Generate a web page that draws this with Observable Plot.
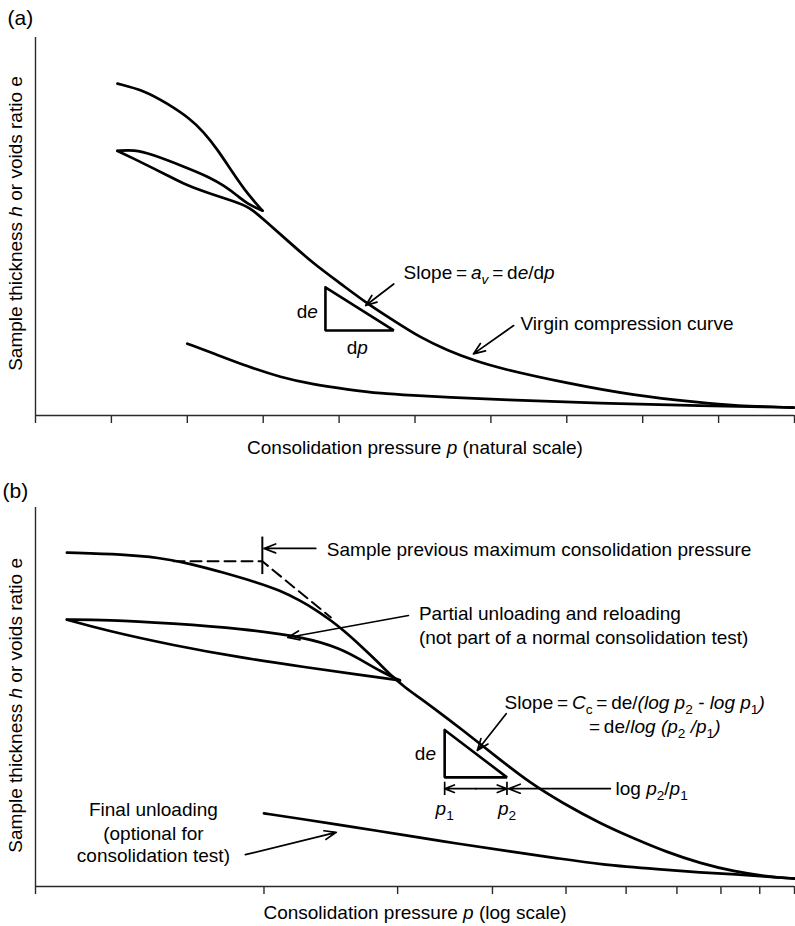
<!DOCTYPE html>
<html>
<head>
<meta charset="utf-8">
<script src="https://cdn.jsdelivr.net/npm/d3@7"></script>
<script src="https://cdn.jsdelivr.net/npm/@observablehq/plot@0.6"></script>
<style>
  html, body { margin: 0; padding: 0; background: #fff; }
  #fig { position: relative; width: 795px; height: 926px; overflow: hidden; }
  #fig svg { position: absolute; left: 0; }
</style>
</head>
<body>
<div id="fig"></div>
<script>
// ---------- Panel (a): natural pressure scale ----------
const aTicks = [0, 1, 2, 3, 4, 5, 6, 7, 8, 9, 10];

// first loading up to the unloading point
const aLoading = [[1.08, 87.8], [1.43, 86.0], [1.74, 82.5], [2.04, 78.5], [2.22, 74.9],
  [2.39, 70.6], [2.61, 63.9], [2.79, 58.7], [2.99, 54.2]];
// partial unloading back to the low pressure
const aUnloading = [[2.99, 54.2], [2.79, 56.0], [2.66, 58.2], [2.48, 60.8], [2.31, 62.9],
  [1.95, 65.9], [1.52, 69.2], [1.30, 70.3], [1.08, 70.0]];
// reloading, then on along the virgin compression curve
const aReloading = [[1.08, 70.0], [1.30, 67.9], [1.52, 65.7], [1.74, 63.5], [2.00, 60.8],
  [2.31, 58.6], [2.61, 56.7], [2.83, 55.1], [3.05, 51.0], [3.32, 46.3], [3.66, 40.2],
  [4.02, 34.9], [4.37, 29.6], [4.72, 25.1], [5.07, 20.6], [5.43, 17.2], [5.77, 14.6],
  [6.13, 12.4], [7.01, 8.5], [7.88, 5.3], [8.76, 3.4], [9.20, 2.6], [9.99, 2.1]];
// final unloading
const aFinal = [[2.00, 19.0], [2.35, 16.4], [2.79, 13.0], [3.23, 10.1], [3.66, 8.2],
  [4.11, 6.9], [4.55, 5.8], [4.98, 5.3], [5.43, 4.8], [6.13, 4.2], [7.44, 3.2],
  [8.76, 2.6], [9.99, 2.1]];
// slope triangle de / dp
const aTriangle = [[3.82, 33.9], [3.82, 22.5], [4.72, 22.5], [3.82, 33.9]];
const aArrows = [
  {x1: 4.72, y1: 34.8, x2: 4.35, y2: 29.1},
  {x1: 6.30, y1: 23.8, x2: 5.77, y2: 16.3}
];
const aNotesStart = [
  {x: 4.85, y: 37.6, text: "Slope\u2009=\u2009*a*_{*v*}\u2009=\u2009d*e*/d*p*"},
  {x: 6.39, y: 24.3, text: "Virgin compression curve"}
];
const aNotesEnd = [{x: 3.72, y: 27.5, text: "d*e*"}];
const aNotesMiddle = [{x: 4.24, y: 18.0, text: "d*p*"}];
const aAxisTitle = "Consolidation pressure *p* (natural scale)";
const yAxisTitle = "Sample thickness *h* or voids ratio e";
const aYTitleAt = 50.8;

// ---------- Panel (b): logarithmic pressure scale ----------
const bTicks = [1, 2, 3, 4, 5, 6, 7, 8, 9, 10];

// loading and virgin compression curve
const bLoading = [[1.10, 88.1], [1.31, 87.6], [1.45, 86.8], [1.60, 85.2], [1.77, 82.8],
  [1.96, 80.2], [2.10, 78.1], [2.23, 75.5], [2.35, 72.8], [2.45, 70.2], [2.55, 67.5],
  [2.68, 63.6], [2.82, 59.4], [2.95, 55.4], [3.07, 52.5], [3.19, 50.1], [3.31, 47.8],
  [3.66, 41.2], [4.06, 34.0], [4.49, 27.2], [4.96, 21.9], [5.55, 16.6], [6.14, 12.7],
  [6.80, 9.0], [7.52, 6.1], [8.31, 4.0], [9.21, 2.6], [10, 2.1]];
// partial unloading and reloading loop
const bUnloading = [[3.02, 54.4], [2.85, 56.7], [2.68, 59.9], [2.52, 62.8], [2.28, 65.7],
  [1.86, 68.1], [1.52, 69.4], [1.24, 70.4], [1.10, 70.4]];
const bReloading = [[1.10, 70.4], [1.24, 67.5], [1.52, 63.6], [1.86, 60.4], [2.28, 57.8],
  [2.66, 55.9], [3.02, 54.4]];
// final unloading
const bFinal = [[2.00, 19.3], [2.23, 17.9], [2.64, 15.6], [3.03, 13.7], [3.60, 11.3],
  [4.23, 9.2], [4.89, 7.4], [5.55, 5.8], [6.66, 4.5], [7.52, 3.7], [8.39, 3.2],
  [9.21, 2.6], [10, 2.1]];
// construction for the previous maximum consolidation pressure
const bPreconLines = [[1.52, 85.8], [1.99, 85.8], [2.45, 71.0]];
const bPmax = [{x: 1.99, y1: 82.3, y2: 92.2}];
// slope triangle and the p1 - p2 span
const bTriangle = [[3.46, 41.3], [3.46, 28.8], [4.18, 28.8], [3.46, 41.3]];
const bSpan = {p1: 3.46, p2: 4.18, y: 25.8, lo: 24.0, hi: 27.5};
const bArrows = [
  {x1: 2.34, y1: 89.2, x2: 2.00, y2: 89.2},
  {x1: 3.10, y1: 71.5, x2: 2.15, y2: 65.7},
  {x1: 4.17, y1: 45.6, x2: 3.82, y2: 35.9},
  {x1: 1.89, y1: 8.4, x2: 2.49, y2: 14.3},
  {x1: 5.72, y1: 25.8, x2: 4.20, y2: 25.8}
];
const bNotesStart = [
  {x: 2.42, y: 88.8, text: "Sample previous maximum consolidation pressure"},
  {x: 3.20, y: 71.8, text: "Partial unloading and reloading"},
  {x: 3.20, y: 65.7, text: "(not part of a normal consolidation test)"},
  {x: 4.15, y: 48.5, text: "Slope\u2009=\u2009*C*_{c}\u2009=\u2009de/*(log p*_{2} *- log p*_{1}*)*"},
  {x: 5.36, y: 42.2, text: "=\u2009de/*log (p*_{2} */p*_{1}*)*"},
  {x: 5.81, y: 25.8, text: "log *p*_{2}/*p*_{1}"}
];
const bNotesEnd = [{x: 3.37, y: 35.1, text: "d*e*"}];
const bNotesMiddle = [
  {x: 3.46, y: 20.6, text: "*p*_{1}"},
  {x: 4.18, y: 20.6, text: "*p*_{2}"},
  {x: 1.43, y: 20.1, text: "Final unloading"},
  {x: 1.43, y: 14.0, text: "(optional for"},
  {x: 1.43, y: 8.2, text: "consolidation test)"}
];
const bAxisTitle = "Consolidation pressure *p* (log scale)";
const bYTitleAt = 47.8;

// ---------- shared styling ----------
const FONT = "'Liberation Sans', Arial, Helvetica, sans-serif";
const FS = 19;
const INK = "#000";
const AXIS = "#2a2a2a";
const X = d => d[0], Y = d => d[1];
const lineStyle = {x: X, y: Y, stroke: INK, strokeWidth: 2.7, curve: "basis",
  strokeLinejoin: "round", strokeLinecap: "round"};
const arrowStyle = {x1: "x1", y1: "y1", x2: "x2", y2: "y2", stroke: INK,
  strokeWidth: 1.7, headLength: 11, headAngle: 42};
const textStyle = {x: "x", y: "y", text: "text", fontSize: FS, fill: INK, lineAnchor: "middle"};

function notes(start, end, middle) {
  return [
    Plot.text(start, {...textStyle, textAnchor: "start"}),
    Plot.text(end, {...textStyle, textAnchor: "end"}),
    Plot.text(middle, {...textStyle, textAnchor: "middle"})
  ];
}

function axes(ticks, x0, xTitle, titleGap, yTitleAt, tag, tagDx, tagDy) {
  return [
    Plot.ruleY([0], {stroke: AXIS, strokeWidth: 1.4}),
    Plot.ruleX([x0], {y1: 0, y2: 100, stroke: AXIS, strokeWidth: 1.4}),
    Plot.axisX({ticks, tickSize: 8, tickFormat: () => "", label: null,
      stroke: AXIS, strokeWidth: 1.4}),
    Plot.text([xTitle], {text: d => d, frameAnchor: "bottom", lineAnchor: "middle",
      dy: titleGap, fontSize: FS, fill: INK}),
    Plot.text([yAxisTitle], {x: x0, y: yTitleAt, text: d => d, rotate: -90,
      lineAnchor: "middle", dx: -20, fontSize: FS, fill: INK}),
    Plot.text([tag], {text: d => d, frameAnchor: "top-left", textAnchor: "start",
      lineAnchor: "middle", dx: tagDx, dy: tagDy, fontSize: 21, fill: INK})
  ];
}

// turns *italic* and _{subscript} markup into tspans
function richText(svg) {
  const NS = "http://www.w3.org/2000/svg";
  svg.querySelectorAll("text").forEach(el => {
    if (el.children.length) return;
    const src = el.textContent;
    if (!/[*_]/.test(src)) return;
    el.textContent = "";
    let italic = false, sub = false, buf = "", dy = 0;
    const flush = () => {
      if (!buf) return;
      const t = document.createElementNS(NS, "tspan");
      t.textContent = buf;
      if (italic) t.setAttribute("font-style", "italic");
      if (sub) t.setAttribute("font-size", "0.72em");
      if (dy) t.setAttribute("dy", dy);
      dy = 0; buf = "";
      el.appendChild(t);
    };
    for (let i = 0; i < src.length; i++) {
      const c = src[i];
      if (c === "*") { flush(); italic = !italic; }
      else if (c === "_" && src[i + 1] === "{") { flush(); sub = true; dy += 5; i++; }
      else if (c === "}" && sub) { flush(); sub = false; dy -= 5; }
      else buf += c;
    }
    flush();
  });
  return svg;
}

const svgStyle = {fontFamily: FONT, fontSize: FS + "px", background: "transparent", overflow: "visible"};

const panelA = Plot.plot({
  width: 795, height: 465,
  marginLeft: 35, marginRight: 1, marginTop: 37, marginBottom: 50,
  x: {domain: [0, 10], axis: null},
  y: {domain: [0, 100], axis: null},
  style: svgStyle,
  marks: [
    ...axes(aTicks, 0, aAxisTitle, 32, aYTitleAt, "(a)", -28, -19.5),
    Plot.line(aLoading, lineStyle),
    Plot.line(aUnloading, lineStyle),
    Plot.line(aReloading, lineStyle),
    Plot.line(aFinal, lineStyle),
    Plot.line(aTriangle, {x: X, y: Y, stroke: INK, strokeWidth: 2.6, strokeLinejoin: "miter"}),
    Plot.arrow(aArrows, arrowStyle),
    ...notes(aNotesStart, aNotesEnd, aNotesMiddle)
  ]
});

const bMid = Math.sqrt(bSpan.p1 * bSpan.p2);
const panelB = Plot.plot({
  width: 795, height: 461,
  marginLeft: 35, marginRight: 1, marginTop: 42, marginBottom: 40,
  x: {type: "log", domain: [1, 10], axis: null},
  y: {domain: [0, 100], axis: null},
  style: svgStyle,
  marks: [
    ...axes(bTicks, 1, bAxisTitle, 26, bYTitleAt, "(b)", -33, -16),
    Plot.line(bLoading, lineStyle),
    Plot.line(bUnloading, lineStyle),
    Plot.line(bReloading, lineStyle),
    Plot.line(bFinal, lineStyle),
    Plot.line(bPreconLines, {x: X, y: Y, stroke: INK, strokeWidth: 2, strokeDasharray: "11,6"}),
    Plot.ruleX(bPmax, {x: "x", y1: "y1", y2: "y2", stroke: INK, strokeWidth: 2}),
    Plot.line(bTriangle, {x: X, y: Y, stroke: INK, strokeWidth: 2.6, strokeLinejoin: "miter"}),
    Plot.ruleX([bSpan.p1, bSpan.p2], {y1: bSpan.lo, y2: bSpan.hi, stroke: INK, strokeWidth: 1.7}),
    Plot.arrow([{x1: bMid, y1: bSpan.y, x2: bSpan.p1, y2: bSpan.y},
                {x1: bMid, y1: bSpan.y, x2: bSpan.p2, y2: bSpan.y}], arrowStyle),
    Plot.arrow(bArrows, arrowStyle),
    ...notes(bNotesStart, bNotesEnd, bNotesMiddle)
  ]
});

const fig = document.getElementById("fig");
panelA.style.top = "0px";
panelB.style.top = "465px";
fig.appendChild(richText(panelA));
fig.appendChild(richText(panelB));
</script>
</body>
</html>
